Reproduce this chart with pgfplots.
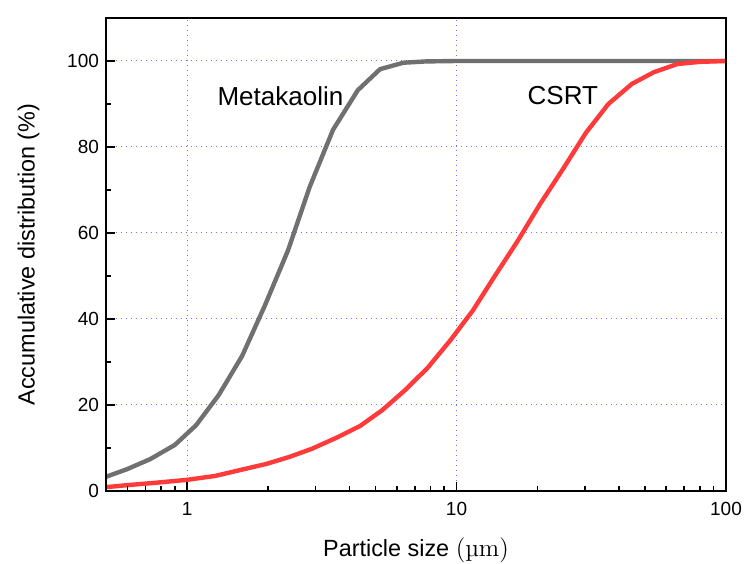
\documentclass[border=0pt]{standalone}
\usepackage{pgfplots}
\pgfplotsset{compat=1.18}
\usepackage{fontspec}
\newfontfamily\arial{Liberation Sans}
\definecolor{mkgray}{RGB}{112,112,112}
\definecolor{csred}{RGB}{255,58,58}
\definecolor{gridblue}{RGB}{110,110,255}
\begin{document}
\begin{tikzpicture}
\begin{axis}[
  scale only axis,
  axis on top,
  width=310pt, height=236.5pt,
  xmode=log, log basis x=10,
  xmin=0.5, xmax=100, ymin=0, ymax=110,
  xtick={1,10,100}, xticklabels={1,10,100},
  minor xtick={0.6,0.7,0.8,0.9,2,3,4,5,6,7,8,9,20,30,40,50,60,70,80,90},
  ytick={0,20,40,60,80,100},
  minor ytick={10,30,50,70,90},
  tick pos=left,
  tick align=inside,
  major tick length=4.5pt, minor tick length=2.4pt,
  major tick style={draw=black, line width=0.9pt},
  minor tick style={draw=black, line width=0.8pt},
  axis line style={line width=0.9pt},
  font=\arial,
  tick label style={font=\arial\fontsize{9.5}{11}\selectfont},
  /pgf/number format/assume math mode=true,
  xticklabel style={yshift=-2pt},
  label style={font=\arial\fontsize{11.7}{13}\selectfont},
  xlabel={Particle size {\rmfamily\fontsize{12.5}{14}\selectfont(µm)}},
  ylabel={Accumulative distribution (\%)},
  xlabel style={yshift=-4pt},
  ylabel style={yshift=7pt},
  clip=true,
]
% dotted grid lines
\draw[dotted, gridblue, line width=0.5pt] (axis cs:1,0) -- (axis cs:1,110);
\draw[dotted, gridblue, line width=0.5pt] (axis cs:10,0) -- (axis cs:10,110);
\draw[dotted, gridblue, line width=0.5pt] (axis cs:0.5,20) -- (axis cs:100,20);
\draw[dotted, gridblue, line width=0.5pt] (axis cs:0.5,40) -- (axis cs:100,40);
\draw[dotted, gridblue, line width=0.5pt] (axis cs:0.5,60) -- (axis cs:100,60);
\draw[dotted, gridblue, line width=0.5pt] (axis cs:0.5,80) -- (axis cs:100,80);
\draw[dotted, gridblue, line width=0.5pt] (axis cs:0.5,100) -- (axis cs:100,100);
\addplot[mkgray, line width=2.2pt] coordinates {
(0.5,3.3) (0.6,5.1) (0.729,7.4) (0.90,10.7) (1.08,15.3) (1.31,22.3) (1.60,31.4)
(1.94,43) (2.37,56) (2.85,70.7) (3.48,84) (4.3,93.2) (5.2,98.1) (6.35,99.6)
(7.7,99.9) (10,100) (20,100) (50,100) (100,100)
};
\addplot[csred, line width=2.2pt] coordinates {
(0.5,0.9) (0.61,1.4) (0.76,1.9) (1,2.6) (1.27,3.5) (1.58,4.9) (1.97,6.3)
(2.39,7.9) (2.9,9.8) (3.56,12.3) (4.38,15.1) (5.3,18.8) (6.4,23.3) (7.8,28.6)
(9.5,35.1) (11.5,42) (13.8,49.8) (16.8,58) (20.4,66.7) (24.9,75) (30.2,83.3)
(36.6,90) (44.8,94.7) (54,97.4) (66,99.3) (80,99.8) (100,100)
};
\node[font=\arial\fontsize{13}{15}\selectfont] at (axis cs:2.22,91.9) {Metakaolin};
\node[font=\arial\fontsize{13}{15}\selectfont] at (axis cs:24.8,91.9) {CSRT};
\end{axis}
\pgfresetboundingbox
\path ([shift={(-53pt,-36pt)}]current axis.south west) rectangle ([shift={(9.5pt,9pt)}]current axis.north east);
\end{tikzpicture}
\end{document}
